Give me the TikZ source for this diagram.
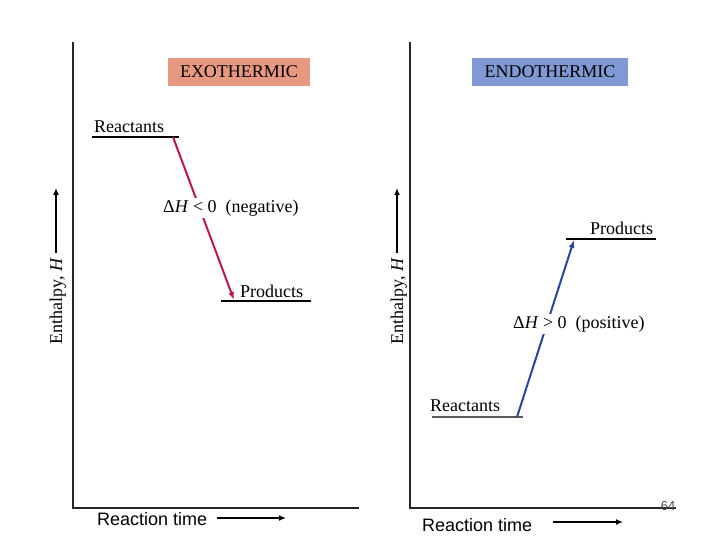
\documentclass[tikz,border=0pt]{standalone}
\usepackage{fontspec}
\setmainfont{Liberation Serif}
\newfontfamily\arialfont{Liberation Sans}
\usetikzlibrary{arrows.meta}
\definecolor{exofill}{RGB}{231,152,128}
\definecolor{endofill}{RGB}{128,153,212}
\definecolor{exoarrow}{RGB}{190,22,80}
\definecolor{endoarrow}{RGB}{40,70,160}
\tikzset{
  lbl/.style={inner sep=0pt, anchor=base west, font=\fontsize{18}{20}\selectfont},
  axisline/.style={line width=1.6pt, draw=black!85},
  level/.style={line width=1.2pt},
  titlebox/.style={minimum width=#1, minimum height=28pt, inner sep=0pt, font=\fontsize{18}{20}\selectfont},
  timelbl/.style={inner sep=0pt, anchor=base west, font=\arialfont\fontsize{18}{20}\selectfont},
  harrow/.style={line width=1.8pt, -{Latex[length=7pt,width=6pt]}},
  dharrow/.style={line width=2pt, -{Latex[length=8pt,width=6pt]}},
  dhlbl/.style={inner sep=2pt, fill=white, anchor=base west, font=\fontsize{18}{20}\selectfont},
}
\begin{document}
\begin{tikzpicture}[x=1pt,y=-1pt]
\useasboundingbox (0,0) rectangle (720,540);
% axes
\coordinate (L0) at (73,42); \coordinate (L1) at (73,508); \coordinate (L2) at (359,508);
\draw[axisline] (L0) -- (L1) -- (L2);
\coordinate (R0) at (410,42); \coordinate (R1) at (410,508); \coordinate (R2) at (676,508);
\draw[axisline] (R0) -- (R1) -- (R2);
% titles
\node[titlebox=142pt, fill=exofill] (exo) at (239,72) {EXOTHERMIC};
\node[titlebox=156pt, fill=endofill] (endo) at (550,72) {ENDOTHERMIC};
% enthalpy labels
\node[lbl, rotate=90] (entL) at (62,345) {Enthalpy, \textit{H}};
\coordinate (entLtip) at (56,188);
\draw[harrow] (56,253) -- (entLtip);
\node[lbl, rotate=90] (entR) at (403,345) {Enthalpy, \textit{H}};
\coordinate (entRtip) at (397,188);
\draw[harrow] (397,253) -- (entRtip);
% exothermic
\coordinate (eR1) at (92,137); \coordinate (eR2) at (179,137);
\draw[level] (eR1) -- (eR2);
\node[lbl] (eRt) at (94,133) {Reactants};
\coordinate (eP1) at (221,301); \coordinate (eP2) at (311,301);
\draw[level] (eP1) -- (eP2);
\node[lbl] (ePt) at (240,297) {Products};
\coordinate (eA) at (173,137); \coordinate (eB) at (234,300);
\draw[dharrow, exoarrow] (eA) -- (eB);
\node[dhlbl] (edh) at (161,212) {Δ\textit{H} < 0\hspace{0.5em}(negative)};
% endothermic
\coordinate (nR1) at (432,417); \coordinate (nR2) at (523,417);
\draw[level, draw=black!65] (nR1) -- (nR2);
\node[lbl] (nRt) at (430,411) {Reactants};
\coordinate (nP1) at (566,239); \coordinate (nP2) at (656,239);
\draw[level] (nP1) -- (nP2);
\node[lbl] (nPt) at (590,234) {Products};
\coordinate (nA) at (517,417); \coordinate (nB) at (574,240);
\draw[dharrow, endoarrow] (nA) -- (nB);
\node[dhlbl] (ndh) at (511,328) {Δ\textit{H} > 0\hspace{0.5em}(positive)};
% reaction time
\node[timelbl] (tL) at (97,525) {Reaction time};
\coordinate (tLa) at (217,518); \coordinate (tLb) at (286,518);
\draw[harrow] (tLa) -- (tLb);
\node[timelbl] (tR) at (422,531) {Reaction time};
\coordinate (tRa) at (553,522); \coordinate (tRb) at (623,522);
\draw[harrow] (tRa) -- (tRb);
% page number
\node[inner sep=0pt, anchor=base, font=\arialfont\fontsize{13}{14}\selectfont, text=black!70] (pg) at (668,510) {64};
\end{tikzpicture}
\end{document}
